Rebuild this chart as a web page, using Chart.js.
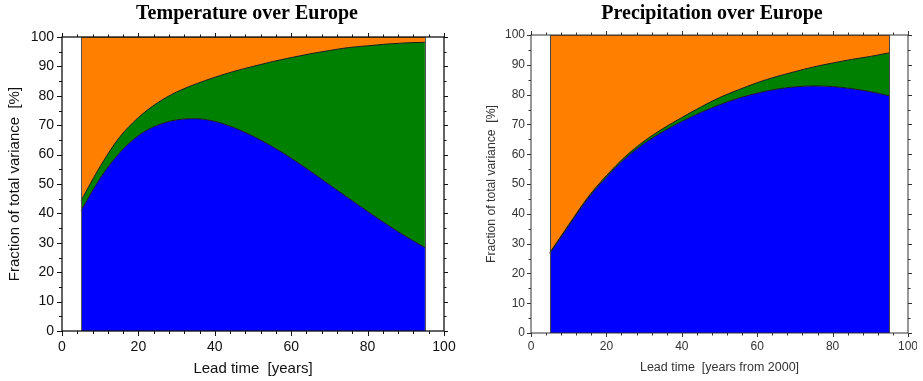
<!DOCTYPE html>
<html><head><meta charset="utf-8">
<script src="https://cdn.jsdelivr.net/npm/chart.js@4.4.1/dist/chart.umd.min.js"></script>
<style>
html,body{margin:0;padding:0;background:#fff;overflow:hidden;width:923px;height:381px}
#c1{position:absolute;left:0;top:0}
#clip{position:absolute;left:463px;top:0;width:454px;height:381px;overflow:hidden}
#c2{position:absolute;left:0;top:0}
</style></head><body>
<canvas id="c1" width="494" height="381"></canvas>
<div id="clip"><canvas id="c2" width="498" height="381"></canvas></div>
<script>
// ---- data ----
const leadTime = [5, 10, 15, 20, 25, 30, 35, 40, 45, 50, 55, 60, 65, 70, 75, 80, 85, 90, 95];

// Temperature over Europe: fractions of total variance [%]
const tempBlue   = [41, 52, 60.5, 66.5, 70, 71.8, 72.2, 71.3, 69.2, 66.3, 62.8, 58.8, 54.4, 49.8, 45.2, 40.7, 36.3, 32.2, 28.4];
const tempGreen  = [3.4, 4, 5.3, 6.1, 7.6, 9.5, 11.8, 15, 19.1, 23.7, 28.8, 34.2, 39.9, 45.6, 51.2, 56.3, 61.3, 65.8, 69.8];
const tempOrange = [55.6, 44, 34.2, 27.4, 22.4, 18.7, 16, 13.7, 11.7, 10, 8.4, 7, 5.7, 4.6, 3.6, 3, 2.4, 2, 1.8];

// Precipitation over Europe: fractions of total variance [%]
const precBlue   = [26.7, 36, 45, 52.3, 58.6, 63.6, 67.6, 71, 74, 76.6, 78.8, 80.5, 81.8, 82.6, 82.9, 82.7, 82, 81, 79.6];
const precGreen  = [0.3, 0.3, 0.4, 0.5, 0.6, 0.8, 1.0, 1.3, 1.8, 2.4, 2.8, 3.5, 4.2, 5.1, 6.4, 7.9, 9.8, 11.8, 14.4];
const precOrange = [73, 63.7, 54.6, 47.2, 40.8, 35.6, 31.4, 27.7, 24.2, 21, 18.4, 16, 14, 12.3, 10.7, 9.4, 8.2, 7.2, 6];

const xTickLabels = [0, 20, 40, 60, 80, 100];
const yTickLabels = [0, 10, 20, 30, 40, 50, 60, 70, 80, 90, 100];

const seriesColors = ['#0000ff', '#008000', '#ff8000'];

// ---- plugin: frame, data edges, outer tick marks ----
const frameTicks = {
  id: 'frameTicks',
  afterDatasetsDraw(chart, args, o) {
    const {ctx, chartArea: a, scales: {x, y}} = chart;
    const line = (x1, y1, x2, y2) => { ctx.beginPath(); ctx.moveTo(x1, y1); ctx.lineTo(x2, y2); ctx.stroke(); };
    ctx.save();
    ctx.strokeStyle = o.edgeColor; ctx.lineWidth = 1;
    [leadTime[0], leadTime[leadTime.length - 1]].forEach(v => {
      const px = Math.round(x.getPixelForValue(v)) + 0.5;
      line(px, y.getPixelForValue(0), px, y.getPixelForValue(100));
    });
    ctx.strokeStyle = o.color; ctx.lineWidth = o.width;
    ctx.strokeRect(a.left, a.top, a.right - a.left, a.bottom - a.top);
    ctx.lineWidth = 1;
    for (let v = 0; v <= 100; v += 4) {
      const px = Math.round(x.getPixelForValue(v)) + 0.5;
      const major = xTickLabels.includes(v);
      line(px, a.bottom, px, a.bottom + (major ? o.majB : o.minB));
      line(px, a.top, px, a.top - (major ? o.majT : o.minT));
    }
    for (let v = 0; v <= 100; v += 5) {
      const py = Math.round(y.getPixelForValue(v)) + 0.5;
      const major = yTickLabels.includes(v);
      line(a.left, py, a.left - (major ? o.majB : o.minB), py);
      line(a.right, py, a.right + (major ? o.majT : o.minT), py);
    }
    ctx.restore();
  }
};

function makeChart(id, cfg) {
  const mk = (arr) => arr.map((v, i) => ({x: leadTime[i], y: v}));
  const ds = [cfg.blue, cfg.green, cfg.orange].map((arr, i) => ({
    label: ['blue', 'green', 'orange'][i],
    data: mk(arr),
    backgroundColor: seriesColors[i],
    borderColor: '#1a1a1a',
    borderWidth: 1,
    pointRadius: 0,
    cubicInterpolationMode: 'monotone',
    fill: i === 0 ? 'origin' : '-1'
  }));
  return new Chart(document.getElementById(id), {
    type: 'line',
    data: {datasets: ds},
    options: {
      responsive: false,
      animation: false,
      devicePixelRatio: 1,
      layout: {padding: 0},
      plugins: {
        legend: {display: false},
        tooltip: {enabled: false},
        title: {
          display: true, text: cfg.title, color: '#000',
          font: {family: 'Liberation Serif', size: 20, weight: 'bold', lineHeight: 1.2},
          padding: {top: 2, bottom: cfg.titlePadB}
        },
        frameTicks: cfg.frame
      },
      scales: {
        x: {
          type: 'linear', min: 0, max: 100,
          afterBuildTicks(s) { s.ticks = xTickLabels.map(v => ({value: v})); },
          ticks: {font: {family: 'Liberation Sans', size: cfg.tickSize}, color: cfg.tickColor, padding: cfg.xTickPad, maxRotation: 0, autoSkip: false},
          grid: {display: false, drawTicks: false},
          border: {display: false},
          title: {display: true, text: cfg.xTitle, color: cfg.titleColor,
            font: {family: 'Liberation Sans', size: cfg.axisTitleSize, lineHeight: 1.2},
            padding: {top: 0, bottom: cfg.xTitlePadB}},
          afterFit(s) { s.height = cfg.xH; }
        },
        y: {
          stacked: true, min: 0, max: 100,
          afterBuildTicks(s) { s.ticks = yTickLabels.map(v => ({value: v})); },
          ticks: {font: {family: 'Liberation Sans', size: cfg.tickSize}, color: cfg.tickColor, padding: cfg.yTickPad, autoSkip: false},
          grid: {display: false, drawTicks: false},
          border: {display: false},
          title: {display: true, text: 'Fraction of total variance  [%]', color: cfg.titleColor,
            font: {family: 'Liberation Sans', size: cfg.yTitleSize, lineHeight: 1.2},
            padding: {top: cfg.yTitlePadT, bottom: 0}},
          afterFit(s) { s.width = cfg.yW; }
        },
        y2: {
          position: 'right', min: 0, max: 100,
          ticks: {display: false},
          grid: {display: false, drawTicks: false},
          border: {display: false},
          afterFit(s) { s.width = cfg.rightW; }
        }
      }
    },
    plugins: [frameTicks]
  });
}

makeChart('c1', {
  title: 'Temperature over Europe', titlePadB: 11,
  blue: tempBlue, green: tempGreen, orange: tempOrange,
  xTitle: 'Lead time  [years]',
  tickSize: 14, tickColor: '#111', titleColor: '#111',
  axisTitleSize: 15, yTitleSize: 15,
  xTickPad: 8, yTickPad: 8, xTitlePadB: 3, yTitlePadT: 6,
  xH: 50, yW: 62, rightW: 50,
  frame: {color: '#111', width: 1.3, edgeColor: '#555', majB: 5, minB: 3, majT: 4, minT: 2.5}
});

makeChart('c2', {
  title: 'Precipitation over Europe', titlePadB: 9,
  blue: precBlue, green: precGreen, orange: precOrange,
  xTitle: 'Lead time  [years from 2000]',
  tickSize: 12, tickColor: '#333', titleColor: '#333',
  axisTitleSize: 12.5, yTitleSize: 12.2,
  xTickPad: 6, yTickPad: 6, xTitlePadB: 5.5, yTitlePadT: 21,
  xH: 48, yW: 68, rightW: 53,
  frame: {color: '#333', width: 1, edgeColor: '#444', majB: 4, minB: 2.5, majT: 4, minT: 2.5}
});
</script>
</body></html>
